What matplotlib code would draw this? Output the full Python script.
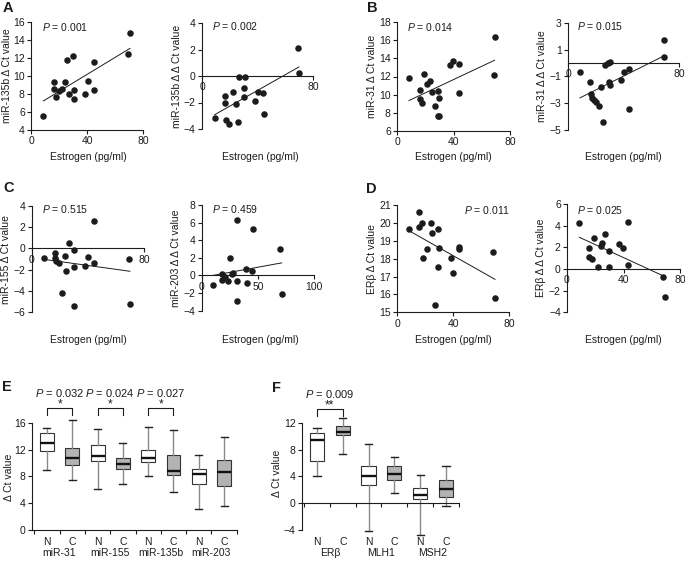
import numpy as np
import matplotlib
matplotlib.use('Agg')
import matplotlib.pyplot as plt
from matplotlib.transforms import offset_copy

plt.rcParams['font.family'] = ['Liberation Sans', 'DejaVu Sans']
plt.rcParams['mathtext.fontset'] = 'custom'
plt.rcParams['mathtext.it'] = 'Liberation Sans:italic'
plt.rcParams['mathtext.rm'] = 'Liberation Sans'

# ---------------- data ----------------
a1_x = [8.8, 16.7, 16.7, 17.9, 20.2, 22.4, 24.3, 25.5, 27.4, 30.2, 30.7, 30.7, 38.6, 41.0, 45.0, 45.0, 69.5, 70.7]
a1_y = [5.6, 9.3, 8.6, 7.7, 8.3, 8.6, 9.3, 11.8, 8.0, 12.2, 8.5, 7.4, 8.0, 9.5, 8.4, 11.6, 12.4, 14.8]

a2_x = [9.1, 16.7, 16.7, 17.4, 19.3, 22.2, 24.6, 25.8, 27.0, 30.3, 30.3, 31.0, 38.4, 40.0, 44.2, 45.0, 69.2, 69.9]
a2_y = [-3.2, -1.5, -2.0, -3.3, -3.6, -1.2, -2.1, -3.5, -0.1, -0.9, -1.6, -0.1, -1.9, -1.2, -1.3, -2.9, 2.1, 0.2]

b1_x = [8.5, 16.1, 16.1, 17.5, 18.9, 21.3, 23.4, 24.9, 27.2, 29.3, 29.3, 29.8, 29.8, 37.4, 39.8, 43.6, 43.6, 68.6, 69.1]
b1_y = [11.8, 10.5, 9.5, 9.1, 12.3, 11.2, 11.5, 10.3, 8.7, 10.4, 7.7, 9.6, 7.6, 13.3, 13.7, 13.4, 10.2, 12.2, 16.4]

b2_x = [8.6, 16.2, 16.7, 17.6, 19.0, 20.5, 22.1, 23.8, 25.2, 26.9, 29.0, 30.0, 29.3, 30.5, 38.1, 40.0, 44.0, 43.8, 69.0, 69.5]
b2_y = [-0.65, -1.43, -2.36, -2.66, -2.79, -2.91, -3.24, -1.83, -4.42, -0.14, 0.03, 0.08, -1.43, -1.65, -1.28, -0.7, -0.47, -3.49, 0.43, 1.74]

c1_x = [8.4, 16.2, 16.2, 17.4, 19.1, 21.2, 23.6, 24.6, 26.5, 29.8, 29.8, 29.8, 38.2, 40.1, 44.2, 44.2, 69.2, 69.9]
c1_y = [-0.86, -0.4, -0.92, -1.23, -1.38, -4.18, -0.74, -2.15, 0.49, -0.18, -1.78, -5.42, -1.63, -0.77, -1.42, 2.61, -1.0, -5.23]

c2_x = [9.8, 17.8, 17.8, 20.7, 23.1, 25.1, 26.6, 28.1, 31.1, 31.1, 31.1, 39.1, 40.5, 44.9, 45.3, 69.5, 71.0]
c2_y = [-1.08, 0.17, -0.51, -0.2, -0.66, 1.95, 0.17, 0.32, 6.3, -0.62, -2.9, 0.74, -0.81, 0.55, 5.24, 2.97, -2.14]

d1_x = [8.4, 15.5, 15.7, 17.4, 18.1, 21.4, 24.1, 25.0, 26.9, 29.3, 29.8, 29.3, 38.1, 39.6, 44.1, 44.1, 68.6, 69.8]
d1_y = [19.65, 19.8, 20.64, 20.0, 18.06, 18.53, 20.0, 19.43, 15.41, 19.65, 18.62, 17.52, 18.06, 17.19, 18.68, 18.53, 18.4, 15.79]

d2_x = [8.7, 15.8, 15.8, 17.5, 19.1, 21.8, 23.9, 24.6, 27.0, 29.6, 30.0, 37.1, 39.3, 43.5, 43.5, 67.9, 69.5]
d2_y = [4.27, 1.91, 1.14, 0.92, 2.83, 0.21, 2.15, 2.37, 3.2, 1.69, 0.16, 2.31, 1.97, 0.4, 4.37, -0.71, -2.61]

p_values = ['0.001', '0.002', '0.014', '0.015', '0.515', '0.459', '0.011', '0.025']

# Box plot E (order: N, C for each group)
e_groups = ['miR-31', 'miR-155', 'miR-135b', 'miR-203']
e_lo  = [9.0, 7.5, 6.1, 6.8, 8.1, 5.6, 3.2, 3.6]
e_q1  = [11.8, 9.7, 10.3, 9.05, 10.2, 8.2, 6.9, 6.6]
e_med = [13.0, 10.8, 11.1, 9.9, 10.8, 8.8, 8.4, 8.6]
e_q3  = [14.5, 12.3, 12.7, 10.7, 11.9, 11.2, 9.1, 10.5]
e_hi  = [15.3, 16.4, 15.1, 13.0, 15.4, 15.0, 11.2, 13.9]
e_pvals = ['0.032', '0.024', '0.027']

# Box plot F
f_groups = ['ERβ', 'MLH1', 'MSH2']
f_lo  = [4.1, 7.4, -4.1, 1.5, -4.8, -0.4]
f_q1  = [6.3, 10.2, 2.8, 3.5, 0.65, 1.0]
f_med = [9.5, 10.7, 4.0, 4.3, 1.3, 2.1]
f_q3  = [10.5, 11.5, 5.5, 5.6, 2.3, 3.5]
f_hi  = [11.2, 12.7, 8.9, 6.9, 4.2, 5.5]
f_pval = '0.009'

nc_labels = ['N', 'C']

# ---------------- figure ----------------
W, H = 685, 564
fig = plt.figure(figsize=(W / 100, H / 100), dpi=100)
FS = 7.5
TXT = '#1c1c1c'
LW = 0.8


def px_axes(x0, x1, ytop, ybot):
    return fig.add_axes([x0 / W, 1 - ybot / H, (x1 - x0) / W, (ybot - ytop) / H])


def ftext(x, y, s, **kw):
    kw.setdefault('fontsize', FS)
    kw.setdefault('color', TXT)
    fig.text(x / W, 1 - y / H, s, **kw)


def style(ax):
    for s in ['top', 'right']:
        ax.spines[s].set_visible(False)
    for s in ['left', 'bottom']:
        ax.spines[s].set_linewidth(LW)
        ax.spines[s].set_color(TXT)
    ax.tick_params(length=3, width=LW, labelsize=FS, colors=TXT, pad=1.5)
    ax.patch.set_visible(False)


def scatter_panel(rect, xs, ys, xlim, ylim, xticks, yticks, zero_axis):
    ax = px_axes(*rect)
    xs = np.asarray(xs); ys = np.asarray(ys)
    ax.scatter(xs, ys, s=22, c=TXT, linewidths=0, clip_on=False, zorder=3)
    k, b = np.polyfit(xs, ys, 1)
    xx = np.array([xs.min(), xs.max()])
    ax.plot(xx, k * xx + b, color=TXT, lw=0.7, clip_on=False)
    ax.set_xlim(xlim); ax.set_ylim(ylim)
    ax.set_xticks(xticks); ax.set_yticks(yticks)
    style(ax)
    if zero_axis:
        ax.spines['bottom'].set_position(('data', 0))
    return ax


scatter_panel((31, 143, 22, 130), a1_x, a1_y, (0, 80), (4, 16), [0, 40, 80], np.arange(4, 17, 2), False)
scatter_panel((202, 313, 23, 129), a2_x, a2_y, (0, 80), (-4, 4), [0, 80], np.arange(-4, 5, 2), True)
scatter_panel((397, 510, 22, 131), b1_x, b1_y, (0, 80), (6, 18), [0, 40, 80], np.arange(6, 19, 2), False)
scatter_panel((568, 679, 23, 129.5), b2_x, b2_y, (0, 80), (-5, 3), [0, 80], np.arange(-5, 4, 2), True)
scatter_panel((32, 144, 206, 312), c1_x, c1_y, (0, 80), (-6, 4), [0, 80], np.arange(-6, 5, 2), True)
scatter_panel((201.7, 314.3, 205, 310.7), c2_x, c2_y, (0, 100), (-4, 8), [0, 50, 100], np.arange(-4, 9, 2), True)
scatter_panel((397.3, 509.3, 205.3, 312.3), d1_x, d1_y, (0, 80), (15, 21), [0, 40, 80], np.arange(15, 22, 1), False)
scatter_panel((567, 680, 204, 312.3), d2_x, d2_y, (0, 80), (-4, 6), [0, 40, 80], np.arange(-4, 7, 2), True)

# P values of scatter panels
p_pos = [(42, 27), (211.7, 26), (406.7, 27), (576.7, 26), (42, 209), (211.7, 209), (464, 210), (576.7, 210)]
for (x, y), p in zip(p_pos, p_values):
    ftext(x, y, '$P$ = ' + p, ha='left', va='center')

# y labels of scatter panels
ylabels = ['miR-135b Δ Ct value', 'miR-135b Δ Δ Ct value', 'miR-31 Δ Ct value', 'miR-31 Δ Δ Ct value',
           'miR-155 Δ Ct value', 'miR-203 Δ Δ Ct value', 'ERβ Δ Ct value', 'ERβ Δ Δ Ct value']
ylab_pos = [(7, 76), (177, 76), (372, 76), (542, 76), (6, 259), (176, 258), (372, 259), (541, 258)]
for (x, y), s in zip(ylab_pos, ylabels):
    ftext(x, y, s, ha='center', va='center', rotation=90)

# x labels
for x in (88, 260, 453, 623):
    ftext(x, 157, 'Estrogen (pg/ml)', ha='center', va='center')
    ftext(x, 340, 'Estrogen (pg/ml)', ha='center', va='center')

# panel letters
for s, x, y in [('A', 3, 8), ('B', 367, 8), ('C', 3, 188), ('D', 366, 189), ('E', 2, 387), ('F', 272, 388)]:
    ftext(x, y, s, ha='left', va='center', fontsize=10.5, fontweight='bold')


def box_panel(ax, lo, q1, med, q3, hi, positions):
    stats = [dict(whislo=a, q1=b, med=c, q3=d, whishi=e)
             for a, b, c, d, e in zip(lo, q1, med, q3, hi)]
    arts = ax.bxp(stats, positions=positions, widths=0.55, capwidths=0.28, patch_artist=True,
                  showfliers=False, manage_ticks=False,
                  boxprops=dict(edgecolor='#333333', linewidth=0.8),
                  whiskerprops=dict(color='#8a8a8a', linewidth=1.0),
                  capprops=dict(color='#222222', linewidth=1.0),
                  medianprops=dict(color='#111111', linewidth=1.7))
    for i, patch in enumerate(arts['boxes']):
        patch.set_facecolor('white' if i % 2 == 0 else '#b3b3b3')
    for key in arts:
        for a in arts[key]:
            a.set_clip_on(False)


def bracket(ax, x1, x2, y, ydrop, stars, ptxt, yp):
    ax.plot([x1, x1, x2, x2], [ydrop, y, y, ydrop], color=TXT, lw=0.8, clip_on=False)
    ax.text((x1 + x2) / 2, y + 0.1, stars, ha='center', va='baseline', fontsize=FS + 1, color=TXT)
    ax.text((x1 + x2) / 2, yp, '$P$ = ' + ptxt, ha='center', va='baseline', fontsize=FS + 0.5, color=TXT)


# ---------------- panel E ----------------
axE = px_axes(32, 236.75, 386, 530)
posE = np.arange(1, len(e_med) + 1)
box_panel(axE, e_lo, e_q1, e_med, e_q3, e_hi, posE)
axE.set_xlim(0.41, 8.5)
axE.set_ylim(0, 21.5)
axE.set_yticks(np.arange(0, 17, 4))
axE.set_xticks(np.arange(0.5, 8.6, 1))
axE.set_xticklabels([])
style(axE)
axE.spines['left'].set_bounds(0, 16)
offE1 = offset_copy(axE.transData, fig=fig, y=-12, units='dots')
offE2 = offset_copy(axE.transData, fig=fig, y=-23, units='dots')
for i, p in enumerate(posE):
    axE.text(p, 0, nc_labels[i % 2], transform=offE1, ha='center', va='center', fontsize=FS, color=TXT)
for g, name in enumerate(e_groups):
    axE.text(posE[2 * g] + 0.5, 0, name, transform=offE2, ha='center', va='center', fontsize=FS, color=TXT)
for g, pv in enumerate(e_pvals):
    bracket(axE, posE[2 * g], posE[2 * g + 1], 18.2, 17.1, '*', pv, 19.85)
ftext(9, 477, 'Δ Ct value', ha='center', va='center', rotation=90)

# ---------------- panel F ----------------
axF = px_axes(302, 458.9, 386.2, 530)
posF = np.arange(1, len(f_med) + 1)
box_panel(axF, f_lo, f_q1, f_med, f_q3, f_hi, posF)
axF.set_xlim(0.42, 6.5)
axF.set_ylim(-4, 17.5)
axF.set_yticks(np.arange(-4, 13, 4))
axF.set_xticks(np.arange(0.5, 6.6, 1))
axF.set_xticklabels([])
style(axF)
axF.spines['left'].set_bounds(-4, 12)
axF.spines['bottom'].set_position(('data', 0))
offF1 = offset_copy(axF.transData, fig=fig, y=-12, units='dots')
offF2 = offset_copy(axF.transData, fig=fig, y=-23, units='dots')
for i, p in enumerate(posF):
    axF.text(p, -4, nc_labels[i % 2], transform=offF1, ha='center', va='center', fontsize=FS, color=TXT)
for g, name in enumerate(f_groups):
    axF.text(posF[2 * g] + 0.5, -4, name, transform=offF2, ha='center', va='center', fontsize=FS, color=TXT)
bracket(axF, posF[0], posF[1], 14.1, 13.0, '**', f_pval, 15.75)
ftext(277, 473, 'Δ Ct value', ha='center', va='center', rotation=90)

fig.savefig('out.png', dpi=100)
